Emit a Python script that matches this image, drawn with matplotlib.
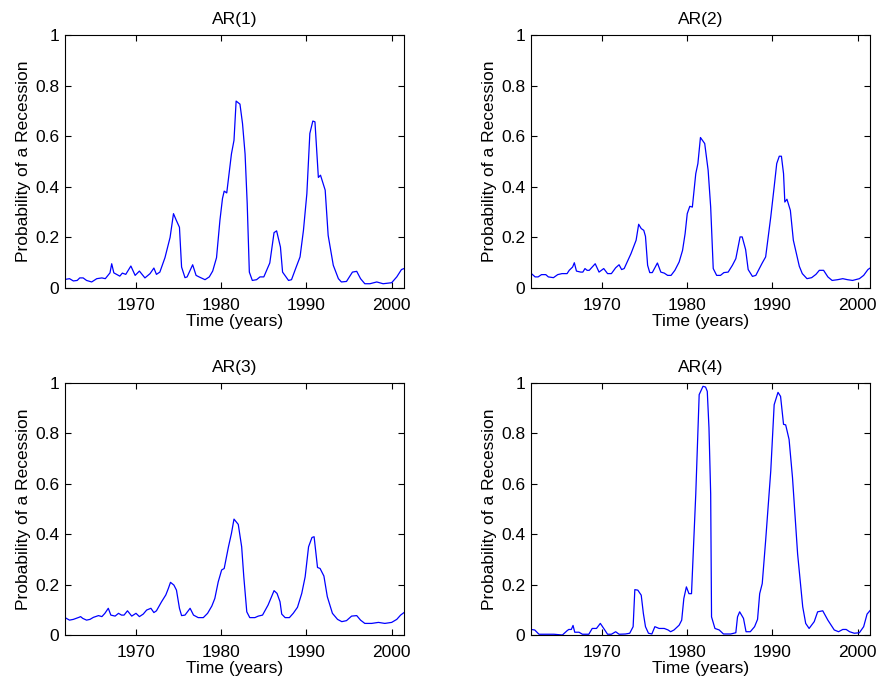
import matplotlib
matplotlib.use("Agg")
from matplotlib import pyplot as plt

plt.rcParams['font.family'] = ['Liberation Sans', 'DejaVu Sans']

# smoothed recession probabilities
ar1_t = [1961.67, 1962.2, 1962.65, 1963.1, 1963.4, 1963.8, 1964.2, 1964.8, 1965.4, 1966.0, 1966.4,
         1966.95, 1967.15, 1967.4, 1968.1, 1968.4, 1968.8, 1969.4, 1969.9, 1970.4, 1971.05, 1971.65,
         1972.1, 1972.4, 1972.8, 1973.4, 1974.0, 1974.4, 1974.7, 1975.1, 1975.35, 1975.75, 1976.0,
         1976.65, 1977.05, 1977.4, 1978.1, 1978.6, 1979.0, 1979.45, 1979.85, 1980.15, 1980.35,
         1980.65, 1981.2, 1981.5, 1981.75, 1982.2, 1982.5, 1982.8, 1983.05, 1983.3, 1983.65, 1984.15,
         1984.55, 1985.0, 1985.7, 1986.2, 1986.5, 1986.95, 1987.2, 1987.9, 1988.25, 1988.8, 1989.25,
         1989.65, 1990.05, 1990.4, 1990.75, 1991.0, 1991.4, 1991.65, 1992.2, 1992.55, 1993.15,
         1993.75, 1994.1, 1994.7, 1995.4, 1995.9, 1996.35, 1996.85, 1997.45, 1998.25, 1999.0,
         2000.0, 2000.6, 2001.15, 2001.45]
ar1_p = [0.034, 0.037, 0.028, 0.03, 0.04, 0.04, 0.03, 0.024, 0.037, 0.04, 0.037,
         0.06, 0.096, 0.06, 0.047, 0.059, 0.054, 0.087, 0.05, 0.067, 0.04, 0.057,
         0.079, 0.054, 0.063, 0.12, 0.2, 0.294, 0.27, 0.24, 0.083, 0.041, 0.044,
         0.092, 0.05, 0.044, 0.033, 0.044, 0.067, 0.12, 0.268, 0.354, 0.383,
         0.376, 0.53, 0.584, 0.739, 0.727, 0.65, 0.53, 0.334, 0.063, 0.03, 0.033,
         0.044, 0.044, 0.099, 0.219, 0.226, 0.162, 0.063, 0.03, 0.033, 0.083, 0.123,
         0.228, 0.373, 0.611, 0.66, 0.657, 0.437, 0.446, 0.387, 0.208, 0.09,
         0.037, 0.024, 0.026, 0.063, 0.066, 0.037, 0.017, 0.017, 0.024, 0.017,
         0.021, 0.044, 0.073, 0.077]

ar2_t = [1961.65, 1962.15, 1962.5, 1962.9, 1963.4, 1963.7, 1964.3, 1964.8, 1965.3, 1965.9, 1966.15,
         1966.55, 1966.75, 1967.0, 1967.5, 1967.75, 1968.0, 1968.25, 1968.5, 1969.2, 1969.65,
         1970.2, 1970.65, 1971.1, 1971.6, 1972.0, 1972.3, 1972.6, 1973.4, 1974.0, 1974.3, 1974.6,
         1974.9, 1975.1, 1975.35, 1975.6, 1975.9, 1976.5, 1976.9, 1977.3, 1977.7, 1978.1, 1978.55,
         1979.05, 1979.45, 1979.75, 1980.0, 1980.3, 1980.6, 1981.0, 1981.25, 1981.55, 1982.05,
         1982.45, 1982.75, 1983.05, 1983.45, 1983.9, 1984.3, 1984.8, 1985.3, 1985.7, 1986.2, 1986.45,
         1986.85, 1987.15, 1987.65, 1988.05, 1988.4, 1988.8, 1989.2, 1989.8, 1990.2, 1990.5, 1990.8,
         1991.05, 1991.3, 1991.45, 1991.7, 1992.1, 1992.45, 1993.15, 1993.5, 1994.05, 1994.6,
         1995.1, 1995.5, 1996.0, 1996.5, 1997.0, 1997.65, 1998.25, 1998.8, 1999.4, 2000.2, 2000.7,
         2001.2, 2001.5]
ar2_p = [0.059, 0.044, 0.044, 0.053, 0.053, 0.044, 0.041, 0.053, 0.057, 0.057, 0.07,
         0.083, 0.1, 0.067, 0.063, 0.063, 0.077, 0.07, 0.07, 0.096, 0.063,
         0.077, 0.057, 0.057, 0.08, 0.092, 0.073, 0.077, 0.136, 0.189, 0.252, 0.235,
         0.228, 0.204, 0.09, 0.061, 0.061, 0.099, 0.063, 0.059, 0.05, 0.05, 0.07,
         0.103, 0.149, 0.215, 0.294, 0.323, 0.32, 0.452, 0.492, 0.595, 0.571,
         0.466, 0.32, 0.077, 0.05, 0.05, 0.061, 0.063, 0.09, 0.116, 0.202, 0.202,
         0.152, 0.073, 0.046, 0.05, 0.073, 0.099, 0.123, 0.281, 0.4, 0.492, 0.521,
         0.521, 0.452, 0.34, 0.351, 0.307, 0.189, 0.086, 0.057, 0.037, 0.041,
         0.054, 0.07, 0.07, 0.044, 0.03, 0.033, 0.037, 0.033, 0.03, 0.037, 0.05,
         0.073, 0.08]

ar3_t = [1961.67, 1962.2, 1962.65, 1963.3, 1963.5, 1963.75, 1964.2, 1964.6, 1965.0, 1965.6, 1966.0,
         1966.35, 1966.75, 1967.05, 1967.55, 1967.95, 1968.3, 1968.6, 1969.0, 1969.5, 1970.0,
         1970.4, 1970.85, 1971.25, 1971.75, 1972.1, 1972.4, 1973.0, 1973.5, 1973.8, 1974.05,
         1974.45, 1974.75, 1975.1, 1975.35, 1975.75, 1976.35, 1976.75, 1977.3, 1977.9, 1978.4,
         1978.9, 1979.25, 1979.65, 1980.05, 1980.35, 1980.85, 1981.2, 1981.5, 1982.0, 1982.4,
         1982.65, 1983.0, 1983.35, 1983.95, 1984.35, 1984.85, 1985.5, 1986.2, 1986.55, 1986.9,
         1987.1, 1987.5, 1988.0, 1988.45, 1988.95, 1989.45, 1989.85, 1990.25, 1990.65, 1990.9,
         1991.3, 1991.6, 1992.05, 1992.45, 1993.05, 1993.65, 1994.15, 1994.7, 1995.3, 1995.9,
         1996.35, 1996.85, 1997.65, 1998.45, 1999.2, 2000.0, 2000.6, 2001.05, 2001.45]
ar3_p = [0.069, 0.059, 0.062, 0.07, 0.073, 0.066, 0.059, 0.062, 0.07, 0.077, 0.073,
         0.086, 0.106, 0.079, 0.075, 0.086, 0.079, 0.079, 0.096, 0.075, 0.086,
         0.073, 0.083, 0.099, 0.106, 0.089, 0.096, 0.132, 0.159, 0.185, 0.209,
         0.198, 0.178, 0.106, 0.077, 0.079, 0.106, 0.079, 0.069, 0.069, 0.086,
         0.115, 0.145, 0.211, 0.258, 0.264, 0.35, 0.403, 0.46, 0.439, 0.35,
         0.231, 0.092, 0.069, 0.069, 0.075, 0.079, 0.119, 0.176, 0.165, 0.132,
         0.083, 0.069, 0.069, 0.086, 0.11, 0.165, 0.231, 0.35, 0.387, 0.39,
         0.268, 0.264, 0.234, 0.152, 0.086, 0.062, 0.053, 0.057, 0.075, 0.077,
         0.059, 0.046, 0.046, 0.05, 0.046, 0.05, 0.062, 0.079, 0.089]

ar4_t = [1961.65, 1962.1, 1962.6, 1963.4, 1964.35, 1965.35, 1965.9, 1966.1, 1966.4, 1966.6, 1966.8,
         1967.3, 1967.7, 1968.45, 1968.85, 1969.35, 1969.8, 1970.2, 1970.65, 1971.1, 1971.6, 1972.0,
         1972.75, 1973.25, 1973.65, 1973.85, 1974.2, 1974.6, 1974.85, 1975.1, 1975.45, 1975.85,
         1976.2, 1976.7, 1977.3, 1977.75, 1978.05, 1978.45, 1979.05, 1979.35, 1979.6, 1979.9,
         1980.2, 1980.5, 1980.7, 1981.0, 1981.4, 1981.85, 1982.15, 1982.35, 1982.55, 1982.75,
         1982.85, 1983.25, 1983.75, 1984.25, 1985.1, 1985.7, 1985.9, 1986.15, 1986.6, 1986.9,
         1987.4, 1987.9, 1988.25, 1988.5, 1988.8, 1989.2, 1989.8, 1990.2, 1990.65, 1990.95,
         1991.3, 1991.55, 1991.95, 1992.35, 1992.95, 1993.55, 1993.9, 1994.3, 1994.9, 1995.3,
         1995.9, 1996.5, 1997.25, 1997.75, 1998.25, 1998.65, 1999.05, 1999.6, 2000.2, 2000.7,
         2001.1, 2001.5]
ar4_p = [0.022, 0.02, 0.003, 0.003, 0.003, 0.0, 0.017, 0.022, 0.022, 0.038, 0.011,
         0.011, 0.003, 0.003, 0.026, 0.026, 0.046, 0.026, 0.003, 0.003, 0.013, 0.003,
         0.004, 0.007, 0.033, 0.18, 0.178, 0.158, 0.086, 0.033, 0.007, 0.004,
         0.033, 0.026, 0.026, 0.02, 0.013, 0.02, 0.039, 0.059, 0.145, 0.191,
         0.164, 0.164, 0.322, 0.559, 0.954, 0.987, 0.984, 0.967, 0.822, 0.559,
         0.072, 0.026, 0.02, 0.004, 0.004, 0.009, 0.072, 0.092, 0.066, 0.013,
         0.013, 0.033, 0.062, 0.164, 0.204, 0.375, 0.651, 0.914, 0.963, 0.947,
         0.836, 0.834, 0.776, 0.625, 0.322, 0.112, 0.046, 0.026, 0.053, 0.092,
         0.096, 0.059, 0.02, 0.013, 0.022, 0.022, 0.013, 0.007, 0.009, 0.033,
         0.083, 0.099]

titles = ['AR(1)', 'AR(2)', 'AR(3)', 'AR(4)']
series = [(ar1_t, ar1_p), (ar2_t, ar2_p), (ar3_t, ar3_p), (ar4_t, ar4_p)]

fs = 12.5

fig = plt.figure(figsize=(8.76, 6.79), dpi=100)

# [left, bottom, width, height] for each panel
boxes = [[0.0742, 0.5758, 0.387, 0.3726],
         [0.6062, 0.5758, 0.387, 0.3726],
         [0.0742, 0.0648, 0.387, 0.3711],
         [0.6062, 0.0648, 0.387, 0.3711]]

for box, title, (t, p) in zip(boxes, titles, series):
    ax = fig.add_axes(box)
    ax.plot(t, p, color=(0, 0, 1), linewidth=0.9)
    ax.set_xlim(1961.67, 2001.45)
    ax.set_ylim(0, 1)
    ax.set_xticks([1970, 1980, 1990, 2000])
    ax.set_yticks([0, 0.2, 0.4, 0.6, 0.8, 1])
    ax.set_yticklabels(['0', '0.2', '0.4', '0.6', '0.8', '1'])
    ax.tick_params(direction='in', top=True, right=True, length=4, width=0.8,
                   labelsize=fs)
    ax.tick_params(axis='x', pad=7)
    ax.tick_params(axis='y', pad=4)
    for s in ax.spines.values():
        s.set_linewidth(0.8)
    ax.set_title(title, fontsize=fs, pad=8)
    ax.set_xlabel('Time (years)', fontsize=fs, labelpad=1)
    ax.set_ylabel('Probability of a Recession', fontsize=fs, labelpad=3)

plt.savefig("out.png", dpi=100)
